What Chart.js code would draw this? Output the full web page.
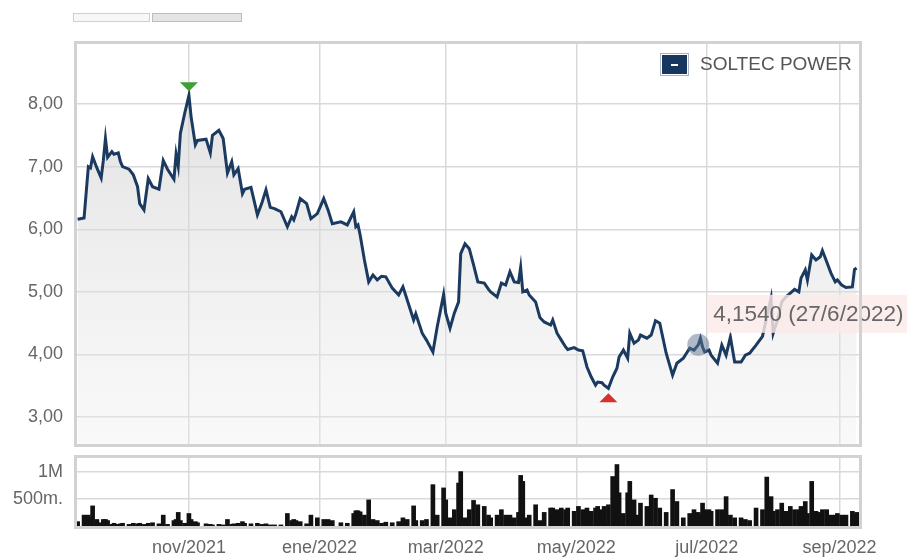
<!DOCTYPE html>
<html>
<head>
<meta charset="utf-8">
<script src="https://cdn.jsdelivr.net/npm/chart.js@4.4.1/dist/chart.umd.min.js"></script>
<style>
  body { margin: 0; background: #fff; font-family: Arial, "Liberation Sans", sans-serif; }
  #wrap { position: relative; width: 907px; height: 557px; overflow: hidden; }
  canvas { position: absolute; left: 0; }
  .tab { position: absolute; top: 13px; height: 7px; border: 1px solid #cfcfcf; }
  #legend-box { position: absolute; left: 660px; top: 53px; width: 27px; height: 21px; background: #173660; border: 1px solid #a9b4c0; box-shadow: inset 0 0 0 1px #fff; }
  #legend-box span { position: absolute; left: 10px; top: 10px; width: 7px; height: 2px; background: #fff; }
  #legend-text { position: absolute; left: 700px; top: 52px; line-height: 24px; font-size: 19px; color: #555; }
</style>
</head>
<body>
<div id="wrap">
  <div class="tab" style="left:73px; width:75px; background:#f7f7f7;"></div>
  <div class="tab" style="left:152px; width:88px; background:#e4e4e4; border-color:#bdbdbd;"></div>
  <canvas id="volumeChart" width="907" height="127" style="top:430px"></canvas>
  <canvas id="priceChart" width="907" height="470" style="top:0"></canvas>
  <div id="legend-box"><span></span></div>
  <div id="legend-text">SOLTEC POWER</div>
</div>
<script>
// Series data
const DATES = [
  '2021-09-10','2021-09-13','2021-09-15','2021-09-16','2021-09-17','2021-09-19','2021-09-21','2021-09-22','2021-09-23','2021-09-24',
  '2021-09-26','2021-09-27','2021-09-29','2021-09-30','2021-10-01','2021-10-04','2021-10-06','2021-10-08','2021-10-09','2021-10-11',
  '2021-10-13','2021-10-15','2021-10-18','2021-10-20','2021-10-22','2021-10-25','2021-10-26','2021-10-27','2021-10-28','2021-10-30',
  '2021-11-01','2021-11-02','2021-11-04','2021-11-05','2021-11-09','2021-11-11','2021-11-12','2021-11-15','2021-11-17','2021-11-19',
  '2021-11-21','2021-11-22','2021-11-24','2021-11-26','2021-11-27','2021-11-30','2021-12-03','2021-12-05','2021-12-07','2021-12-09',
  '2021-12-11','2021-12-14','2021-12-17','2021-12-19','2021-12-20','2021-12-21','2021-12-23','2021-12-26','2021-12-28','2021-12-31',
  '2022-01-03','2022-01-05','2022-01-07','2022-01-11','2022-01-14','2022-01-17','2022-01-18','2022-01-19','2022-01-20','2022-01-22',
  '2022-01-24','2022-01-26','2022-01-28','2022-01-30','2022-02-01','2022-02-04','2022-02-07','2022-02-09','2022-02-11','2022-02-14',
  '2022-02-15','2022-02-18','2022-02-20','2022-02-23','2022-02-25','2022-02-28','2022-03-01','2022-03-03','2022-03-05','2022-03-07',
  '2022-03-08','2022-03-10','2022-03-12','2022-03-14','2022-03-16','2022-03-19','2022-03-21','2022-03-22','2022-03-25','2022-03-27',
  '2022-03-29','2022-03-31','2022-04-02','2022-04-04','2022-04-05','2022-04-06','2022-04-08','2022-04-09','2022-04-12','2022-04-14',
  '2022-04-16','2022-04-19','2022-04-20','2022-04-22','2022-04-24','2022-04-26','2022-04-27','2022-04-30','2022-05-02','2022-05-04',
  '2022-05-06','2022-05-08','2022-05-10','2022-05-11','2022-05-13','2022-05-14','2022-05-16','2022-05-18','2022-05-20','2022-05-21',
  '2022-05-23','2022-05-25','2022-05-26','2022-05-28','2022-05-30','2022-05-31','2022-06-03','2022-06-05','2022-06-07','2022-06-09',
  '2022-06-12','2022-06-15','2022-06-17','2022-06-20','2022-06-23','2022-06-25','2022-06-27','2022-06-28','2022-06-29','2022-06-30',
  '2022-07-02','2022-07-03','2022-07-06','2022-07-08','2022-07-10','2022-07-12','2022-07-14','2022-07-17','2022-07-19','2022-07-21',
  '2022-07-24','2022-07-27','2022-07-29','2022-07-31','2022-08-01','2022-08-03','2022-08-05','2022-08-07','2022-08-09','2022-08-11',
  '2022-08-13','2022-08-14','2022-08-16','2022-08-17','2022-08-19','2022-08-21','2022-08-23','2022-08-24','2022-08-26','2022-08-28',
  '2022-08-30','2022-08-31','2022-09-02','2022-09-04','2022-09-07','2022-09-08','2022-09-09'
];

const PRICES = [
  6.16, 6.18, 7.00, 6.98, 7.16, 6.98, 6.82, 7.10, 7.45, 7.15,
  7.24, 7.20, 7.22, 7.08, 7.00, 6.96, 6.87, 6.68, 6.41, 6.31,
  6.81, 6.68, 6.64, 7.10, 6.96, 6.80, 7.20, 7.01, 7.53, 7.85,
  8.14, 7.80, 7.35, 7.42, 7.44, 7.22, 7.50, 7.58, 7.45, 6.90,
  7.08, 6.87, 6.97, 6.57, 6.64, 6.67, 6.23, 6.41, 6.63, 6.35,
  6.33, 6.28, 6.04, 6.20, 6.15, 6.25, 6.49, 6.41, 6.17, 6.25,
  6.49, 6.31, 6.09, 6.12, 6.07, 6.28, 6.04, 6.07, 5.91, 5.51,
  5.16, 5.27, 5.19, 5.25, 5.24, 5.06, 4.95, 5.08, 4.87, 4.55,
  4.65, 4.34, 4.23, 4.04, 4.44, 4.96, 4.66, 4.42, 4.66, 4.84,
  5.61, 5.77, 5.69, 5.43, 5.16, 5.14, 5.04, 5.00, 4.92, 5.14,
  5.11, 5.32, 5.16, 5.15, 5.39, 5.00, 5.03, 4.95, 4.84, 4.59,
  4.52, 4.47, 4.55, 4.34, 4.23, 4.12, 4.08, 4.11, 4.07, 4.06,
  3.80, 3.64, 3.51, 3.56, 3.55, 3.51, 3.46, 3.64, 3.78, 3.96,
  4.07, 3.94, 4.34, 4.18, 4.23, 4.31, 4.26, 4.31, 4.54, 4.50,
  4.02, 3.67, 3.86, 3.94, 4.10, 4.07, 4.154, 4.26, 4.12, 4.04,
  4.07, 3.99, 3.86, 4.15, 3.99, 4.28, 3.88, 3.88, 3.99, 4.02,
  4.15, 4.29, 4.60, 4.90, 4.34, 4.55, 4.84, 4.92, 4.98, 5.04,
  5.00, 5.22, 5.35, 5.19, 5.59, 5.51, 5.56, 5.66, 5.48, 5.30,
  5.16, 5.19, 5.11, 5.07, 5.08, 5.36, 5.38
];

// Volume in millions
const VOLUMES = [
  0.08, 0.20, 0.20, 0.15, 0.37, 0.12, 0.06, 0.12, 0.12, 0.10,
  0.03, 0.05, 0.03, 0.04, 0.05, 0.03, 0.05, 0.04, 0.05, 0.03,
  0.05, 0.06, 0.04, 0.20, 0.03, 0.10, 0.12, 0.25, 0.10, 0.05,
  0.23, 0.12, 0.08, 0.06, 0.04, 0.03, 0.02, 0.03, 0.02, 0.12,
  0.03, 0.04, 0.05, 0.08, 0.05, 0.04, 0.05, 0.03, 0.04, 0.02,
  0.02, 0.02, 0.23, 0.10, 0.12, 0.10, 0.08, 0.04, 0.20, 0.15,
  0.12, 0.12, 0.10, 0.06, 0.05, 0.23, 0.28, 0.28, 0.26, 0.20,
  0.48, 0.12, 0.10, 0.05, 0.07, 0.06, 0.08, 0.15, 0.12, 0.37,
  0.10, 0.10, 0.12, 0.76, 0.20, 0.70, 0.48, 0.15, 0.30, 0.79,
  1.00, 0.15, 0.30, 0.47, 0.39, 0.36, 0.20, 0.15, 0.20, 0.30,
  0.20, 0.20, 0.15, 0.25, 0.93, 0.82, 0.15, 0.20, 0.39, 0.10,
  0.25, 0.33, 0.33, 0.30, 0.33, 0.30, 0.33, 0.27, 0.36, 0.30,
  0.33, 0.27, 0.33, 0.36, 0.30, 0.36, 0.39, 0.91, 1.13, 0.61,
  0.23, 0.61, 0.82, 0.48, 0.20, 0.42, 0.36, 0.57, 0.51, 0.33,
  0.25, 0.67, 0.45, 0.15, 0.23, 0.30, 0.25, 0.20, 0.42, 0.30,
  0.30, 0.27, 0.30, 0.30, 0.54, 0.20, 0.15, 0.15, 0.12, 0.10,
  0.33, 0.30, 0.90, 0.54, 0.27, 0.30, 0.42, 0.27, 0.36, 0.30,
  0.30, 0.36, 0.45, 0.23, 0.82, 0.27, 0.25, 0.30, 0.30, 0.20,
  0.20, 0.23, 0.20, 0.20, 0.27, 0.20, 0.25
];

const MONTH_TICKS = ['2021-11-01', '2022-01-01', '2022-03-01', '2022-05-01', '2022-07-01', '2022-09-01'];
const MONTH_LABELS = ['nov/2021', 'ene/2022', 'mar/2022', 'may/2022', 'jul/2022', 'sep/2022'];
const PRICE_TICKS = [3, 4, 5, 6, 7, 8];
const VOL_TICKS = [0.5, 1];
const VOL_TICK_LABELS = ['500m.', '1M'];
const HIGHLIGHT_DATE = '2022-06-27';

// day number from an ISO date string
function day(s) {
  const p = s.split('-').map(Number);
  return Date.UTC(p[0], p[1] - 1, p[2]) / 86400000;
}

const X_MIN = day('2021-09-10') - 0.3;
const X_MAX = day('2022-09-10') + 0.1;
const LINE_COLOR = '#1b3a60';
const GRID_COLOR = '#d9d9d9';

Chart.defaults.font.family = 'Arial, "Liberation Sans", sans-serif';
Chart.defaults.font.size = 18;
Chart.defaults.color = '#666';

const priceData = DATES.map((d, i) => ({ x: day(d), y: PRICES[i] }));
const volumeData = DATES.map((d, i) => ({ x: day(d), y: VOLUMES[i] }));

function monthTicks(axis) {
  axis.ticks = MONTH_TICKS.map(d => ({ value: day(d) }));
}

// grid settings: invisible ticks give the label gap without extra layout padding
const yGrid = { color: GRID_COLOR, lineWidth: 1.5, drawTicks: true, tickLength: 14, tickColor: 'rgba(0,0,0,0)' };

// grey border round the plot area
const framePlugin = {
  id: 'frame',
  afterDraw(chart) {
    const a = chart.chartArea;
    const ctx = chart.ctx;
    ctx.save();
    ctx.strokeStyle = '#d2d2d2';
    ctx.lineWidth = 3;
    ctx.strokeRect(a.left - 1.5, a.top - 1.5, a.right - a.left + 3, a.bottom - a.top + 3);
    ctx.restore();
  }
};

// max / min markers and the hover label
const markerPlugin = {
  id: 'markers',
  afterDatasetsDraw(chart) {
    const ctx = chart.ctx;
    const xs = chart.scales.x;
    const ys = chart.scales.y;
    const maxI = PRICES.indexOf(Math.max(...PRICES));
    const minI = PRICES.indexOf(Math.min(...PRICES));

    ctx.save();
    // green triangle over the max
    let px = xs.getPixelForValue(day(DATES[maxI]));
    let py = ys.getPixelForValue(PRICES[maxI]);
    ctx.fillStyle = '#3f9f35';
    ctx.beginPath();
    ctx.moveTo(px - 9, py - 13);
    ctx.lineTo(px + 9, py - 13);
    ctx.lineTo(px, py - 4);
    ctx.closePath();
    ctx.fill();

    // red triangle under the min
    px = xs.getPixelForValue(day(DATES[minI]));
    py = ys.getPixelForValue(PRICES[minI]);
    ctx.fillStyle = '#d8302b';
    ctx.beginPath();
    ctx.moveTo(px - 9, py + 14);
    ctx.lineTo(px + 9, py + 14);
    ctx.lineTo(px, py + 5);
    ctx.closePath();
    ctx.fill();

    // highlighted point
    const hi = DATES.indexOf(HIGHLIGHT_DATE);
    px = xs.getPixelForValue(day(DATES[hi]));
    py = ys.getPixelForValue(PRICES[hi]);
    ctx.fillStyle = 'rgba(95, 115, 145, 0.5)';
    ctx.beginPath();
    ctx.arc(px, py, 11, 0, Math.PI * 2);
    ctx.fill();

    const p = DATES[hi].split('-').map(Number);
    const label = PRICES[hi].toFixed(4).replace('.', ',') + ' (' + p[2] + '/' + p[1] + '/' + p[0] + ')';
    ctx.fillStyle = 'rgba(252, 234, 234, 0.82)';
    ctx.fillRect(px + 9, py - 50, 201, 38);
    ctx.fillStyle = '#666';
    ctx.font = '22.5px Arial, "Liberation Sans", sans-serif';
    ctx.textBaseline = 'middle';
    ctx.textAlign = 'left';
    ctx.fillText(label, px + 15, py - 30);
    ctx.restore();
  }
};

new Chart(document.getElementById('priceChart'), {
  type: 'line',
  data: {
    datasets: [{
      data: priceData,
      borderColor: LINE_COLOR,
      borderWidth: 3,
      pointRadius: 0,
      tension: 0,
      fill: 'start',
      backgroundColor: function (context) {
        const area = context.chart.chartArea;
        if (!area) return 'rgba(220,220,220,0.5)';
        const g = context.chart.ctx.createLinearGradient(0, area.top, 0, area.bottom);
        g.addColorStop(0, 'rgba(200, 200, 200, 0.6)');
        g.addColorStop(1, 'rgba(238, 238, 238, 0.35)');
        return g;
      }
    }]
  },
  options: {
    responsive: false,
    animation: false,
    layout: { padding: { top: 44, right: 48, bottom: 26, left: 0 } },
    plugins: { legend: { display: false }, tooltip: { enabled: false } },
    scales: {
      x: {
        type: 'linear',
        min: X_MIN,
        max: X_MAX,
        afterBuildTicks: monthTicks,
        afterFit: s => { s.height = 0; },
        ticks: { display: false, padding: 0 },
        grid: { color: GRID_COLOR, lineWidth: 1.5, drawTicks: false },
        border: { display: false }
      },
      y: {
        min: 2.57,
        max: 8.96,
        afterBuildTicks: axis => { axis.ticks = PRICE_TICKS.map(v => ({ value: v })); },
        afterFit: s => { s.width = 77; },
        ticks: {
          padding: 0,
          callback: v => v.toFixed(2).replace('.', ',')
        },
        grid: yGrid,
        border: { display: false }
      }
    }
  },
  plugins: [markerPlugin, framePlugin]
});

new Chart(document.getElementById('volumeChart'), {
  type: 'bar',
  data: {
    datasets: [{
      data: volumeData,
      backgroundColor: '#111',
      barThickness: 4
    }]
  },
  options: {
    responsive: false,
    animation: false,
    layout: { padding: { top: 28, right: 48, bottom: 0, left: 0 } },
    plugins: { legend: { display: false }, tooltip: { enabled: false } },
    scales: {
      x: {
        type: 'linear',
        offset: false,
        min: X_MIN,
        max: X_MAX,
        afterBuildTicks: monthTicks,
        afterFit: s => { s.height = 31; },
        ticks: {
          padding: 11,
          maxRotation: 0,
          autoSkip: false,
          callback: (v, i) => MONTH_LABELS[i]
        },
        grid: { color: GRID_COLOR, lineWidth: 1.5, drawTicks: false, offset: false },
        border: { display: false }
      },
      y: {
        min: 0,
        max: 1.25,
        afterBuildTicks: axis => { axis.ticks = VOL_TICKS.map(v => ({ value: v })); },
        afterFit: s => { s.width = 77; },
        ticks: {
          padding: 0,
          callback: (v, i) => VOL_TICK_LABELS[i]
        },
        grid: yGrid,
        border: { display: false }
      }
    }
  },
  plugins: [framePlugin]
});
</script>
</body>
</html>
